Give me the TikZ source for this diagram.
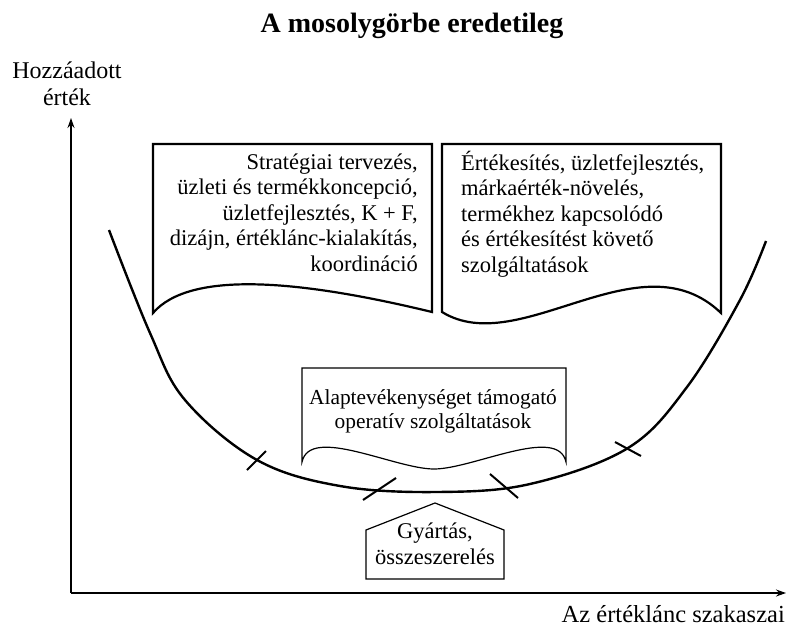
\documentclass[tikz,border=0pt]{standalone}
\usepackage{fontspec}
\setmainfont{Liberation Serif}
\usetikzlibrary{arrows.meta}
\begin{document}
\begin{tikzpicture}[x=1pt,y=-1pt,
  txt/.style={inner sep=0pt, font=\fontsize{22.5}{25.5}\selectfont},
  bigbox/.style={line width=2.2pt, line join=miter},
  thinbox/.style={line width=1.2pt, line join=miter},
  smile/.style={line width=2.4pt},
  tickmark/.style={line width=2pt},
  axis/.style={line width=1.2pt, -{Stealth[length=10pt,width=7pt]}}]
\useasboundingbox (0,0) rectangle (788,626);

% title
\node[inner sep=0pt, font=\fontsize{28}{30}\selectfont\bfseries, anchor=base] (title) at (412,33) {A mosolygörbe eredetileg};

% axes
\coordinate (o) at (71,593);
\coordinate (ytip) at (71,118);
\coordinate (xtip) at (786,593);
\draw[axis] (o) -- (ytip);
\draw[axis] (o) -- (xtip);
\node[txt, align=center, anchor=north, font=\fontsize{24}{27}\selectfont] (ylab) at (67,58) {\rule{0pt}{20pt}Hozzáadott\\érték};
\node[txt, anchor=base east, font=\fontsize{24.5}{26}\selectfont] (xlab) at (785,622) {Az értéklánc szakaszai};

% left box
\draw[bigbox] (153,313) -- (153,144) -- (432,144) -- (432,312)
  .. controls (300,280) and (190,270) .. cycle;
\node[txt, align=right, anchor=north east] (lefttext) at (418,149)
  {\rule{0pt}{20pt}Stratégiai tervezés,\\üzleti és termékkoncepció,\\üzletfejlesztés, K + F,\\dizájn, értéklánc-kialakítás,\\koordináció};

% right box
\draw[bigbox] (442,312) -- (442,144) -- (721,144) -- (721,313)
  .. controls (640,235) and (520,360) .. cycle;
\node[txt, align=left, anchor=north west] (righttext) at (461,150)
  {\rule{0pt}{20pt}Értékesítés, üzletfejlesztés,\\márkaérték-növelés,\\termékhez kapcsolódó\\és értékesítést követő\\szolgáltatások};

% middle box
\draw[thinbox] (302,462) -- (302,368) -- (566,368) -- (566,462)
  .. controls (558,425) and (473,469) .. (434,469)
  .. controls (395,469) and (310,425) .. cycle;
\node[txt, align=center, anchor=north, font=\fontsize{21.4}{24.5}\selectfont] (midtext) at (433,384)
  {\rule{0pt}{20pt}Alaptevékenységet támogató\\operatív szolgáltatások};

% smile curve
\draw[smile] plot[smooth, tension=0.6] coordinates {(109,230) (150,333) (185,400) (257,460) (340,486) (437,492) (530,484) (628,448) (687,387) (740,300) (766,241)};

% tick marks
\draw[tickmark] (247,470) -- (266,451);
\draw[tickmark] (363,500) -- (396,478);
\draw[tickmark] (490,474) -- (518,498);
\draw[tickmark] (615,442) -- (641,456);

% production house
\draw[thinbox] (366,579) -- (366,530) -- (435,503) -- (504,530) -- (504,579) -- cycle;
\node[txt, align=center, anchor=north, font=\fontsize{22.5}{26}\selectfont] (prodtext) at (435,518)
  {\rule{0pt}{20pt}Gyártás,\\összeszerelés};
\end{tikzpicture}
\end{document}
